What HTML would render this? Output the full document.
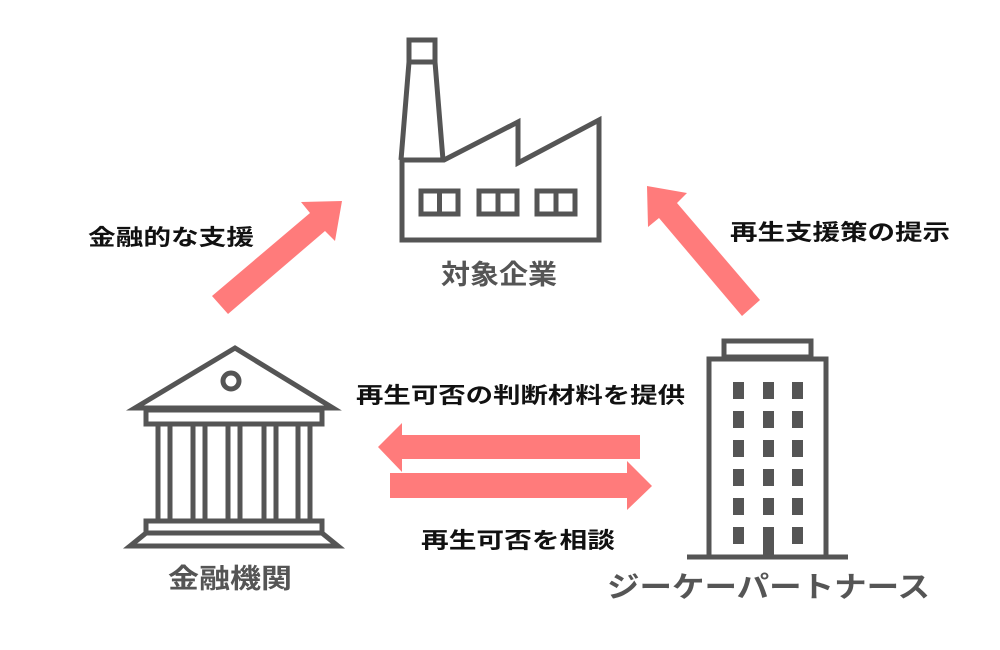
<!DOCTYPE html>
<html><head><meta charset="utf-8"><style>
html,body{margin:0;padding:0;background:#fff;width:1000px;height:650px;overflow:hidden}
svg{display:block}
text{font-family:"Liberation Sans","Noto Sans CJK JP",sans-serif}
</style></head><body>
<svg width="1000" height="650" viewBox="0 0 1000 650" xmlns="http://www.w3.org/2000/svg">
<g fill="none" stroke="#555" stroke-width="5" stroke-linejoin="miter">
  <!-- factory -->
  <rect x="409" y="40" width="26" height="22"/>
  <polyline points="401,160 409,62 435,62 443,160"/>
  <polygon points="402,160 444,160 518,122 518,163 599,120 599,240 402,240"/>
  <rect x="421" y="191" width="37" height="23"/>
  <line x1="439.5" y1="191" x2="439.5" y2="214"/>
  <rect x="479" y="191" width="38" height="23"/>
  <line x1="498" y1="191" x2="498" y2="214"/>
  <rect x="537" y="191" width="38" height="23"/>
  <line x1="556" y1="191" x2="556" y2="214"/>
  <!-- bank -->
  <polygon points="235,348 333,408 135,408"/>
  <circle cx="231" cy="381" r="8"/>
  <rect x="146" y="410" width="176" height="14"/>
  <g>
    <line x1="158" y1="425" x2="158" y2="519"/><line x1="170" y1="425" x2="170" y2="519"/>
    <line x1="193" y1="425" x2="193" y2="519"/><line x1="205" y1="425" x2="205" y2="519"/>
    <line x1="228" y1="425" x2="228" y2="519"/><line x1="240" y1="425" x2="240" y2="519"/>
    <line x1="264" y1="425" x2="264" y2="519"/><line x1="276" y1="425" x2="276" y2="519"/>
    <line x1="298" y1="425" x2="298" y2="519"/><line x1="310" y1="425" x2="310" y2="519"/>
  </g>
  <rect x="146" y="521" width="176" height="12"/>
  <polygon points="146,533 322,533 338,546 130,546"/>
  <!-- building -->
  <rect x="724" y="341" width="87" height="16"/>
  <rect x="709" y="359" width="117" height="198"/>
  <line x1="687" y1="557" x2="848" y2="557"/>
</g>
<g fill="#555">
  <rect x="733" y="382" width="11" height="17"/><rect x="763" y="382" width="11" height="17"/><rect x="792" y="382" width="11" height="17"/>
  <rect x="733" y="411" width="11" height="17"/><rect x="763" y="411" width="11" height="17"/><rect x="792" y="411" width="11" height="17"/>
  <rect x="733" y="440" width="11" height="17"/><rect x="763" y="440" width="11" height="17"/><rect x="792" y="440" width="11" height="17"/>
  <rect x="733" y="469" width="11" height="17"/><rect x="763" y="469" width="11" height="17"/><rect x="792" y="469" width="11" height="17"/>
  <rect x="733" y="498" width="11" height="17"/><rect x="763" y="498" width="11" height="17"/><rect x="792" y="498" width="11" height="17"/>
  <rect x="733" y="527" width="11" height="17"/><rect x="763" y="527" width="11" height="30"/><rect x="792" y="527" width="11" height="17"/>
</g>
<!-- arrows -->
<g fill="#ff7b7b">
  <polygon points="212,296 228,314 325,231 335,241 342,201 301,202 310,213"/>
  <polygon points="760,300 742,316 659,218 648,227 647,186 687,193 677,203"/>
  <polygon points="640,435 640,459 402,459 402,472 378,447 402,423 402,435"/>
  <polygon points="390,473 627,473 627,461 652,486 627,510 627,498 390,498"/>
</g>
<!-- text -->
<g font-weight="bold" fill="#111" font-size="22">
  <text x="88" y="245" textLength="166" lengthAdjust="spacingAndGlyphs">金融的な支援</text>
  <text x="730" y="240" textLength="220" lengthAdjust="spacingAndGlyphs">再生支援策の提示</text>
  <text x="356" y="403" textLength="329" lengthAdjust="spacingAndGlyphs">再生可否の判断材料を提供</text>
  <text x="421" y="548" textLength="194" lengthAdjust="spacingAndGlyphs">再生可否を相談</text>
</g>
<g fill="#555" font-size="27" font-weight="bold">
  <text x="441" y="284" textLength="116" lengthAdjust="spacingAndGlyphs">対象企業</text>
  <text x="168" y="588" textLength="124" lengthAdjust="spacingAndGlyphs">金融機関</text>
  <text x="607" y="597" font-size="29" textLength="323" lengthAdjust="spacingAndGlyphs">ジーケーパートナース</text>
</g>
</svg>
</body></html>
